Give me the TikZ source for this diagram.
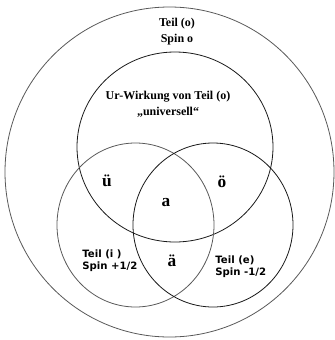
\documentclass[tikz,border=0pt]{standalone}
\usepackage{fontspec}
\setmainfont{Liberation Serif}
\newfontfamily\spinfont{DejaVu Sans}
\usepackage{tikz}
\usetikzlibrary{arrows.meta}

\begin{document}
\begin{tikzpicture}[x=0.75pt,y=-0.75pt,line width=0.6pt,
  kreis/.style={draw=black!90},
  kreisgrau/.style={draw=black!65},
  titel/.style={font=\fontsize{9}{12}\selectfont\bfseries,align=center,inner sep=0pt},
  buchst/.style={font=\fontsize{13}{15}\selectfont\bfseries,inner sep=0pt},
  spin/.style={font=\spinfont\fontsize{7.6}{9}\selectfont\bfseries,align=left,anchor=west,inner sep=0pt}]
\useasboundingbox (0,0) rectangle (335,340);
% Kreise
\coordinate (O) at (169.5,172);
\coordinate (U) at (175,147);
\coordinate (I) at (135.5,225);
\coordinate (E) at (213,225);
\draw[kreisgrau] (O) ellipse [x radius=164.5,y radius=165];
\draw[kreis] (U) ellipse [x radius=98,y radius=95];
\draw[kreisgrau] (I) ellipse [x radius=78.5,y radius=82];
\draw[kreis] (E) ellipse [x radius=80,y radius=82];
% Beschriftung
\node[titel] (teilo) at (177,31.5) {Teil (o)\\Spin o};
\node[titel] (urw) at (168,104) {Ur-Wirkung von Teil (o)\\„universell“};
\node[buchst] (ue) at (107,181) {ü};
\node[buchst] (oe) at (222,182) {ö};
\node[buchst] (a) at (166,203) {a};
\node[buchst] (ae) at (172,261) {ä};
\node[spin] (teili) at (82,261) {Teil (i )\\Spin +1/2};
\node[spin] (teile) at (215,266.5) {Teil (e)\\Spin -1/2};
\end{tikzpicture}
\end{document}
